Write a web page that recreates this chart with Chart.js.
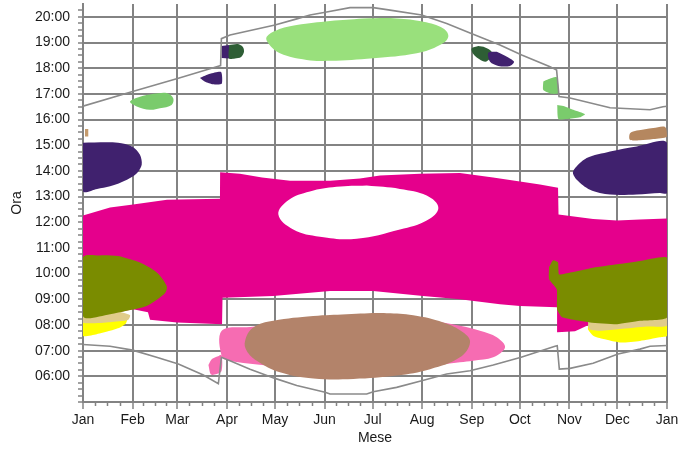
<!DOCTYPE html>
<html>
<head>
<meta charset="utf-8">
<script src="https://cdn.jsdelivr.net/npm/chart.js@4.4.1/dist/chart.umd.min.js"></script>
<style>
  html, body { margin: 0; padding: 0; background: #fff; }
  canvas { display: block; }
</style>
</head>
<body>
<canvas id="shade-chart" width="697" height="450"></canvas>
<script>
// x = day of year, y = hour of day
const monthStartDay = [0, 31, 59, 90, 120, 151, 181, 212, 243, 273, 304, 334, 365];
const monthNames = ['Jan', 'Feb', 'Mar', 'Apr', 'May', 'Jun', 'Jul', 'Aug', 'Sep', 'Oct', 'Nov', 'Dec', 'Jan'];

// Sun rise / set curves
const sunrise = [[0, 7.24], [16.9, 7.17], [31, 7.02], [46, 6.74], [59.6, 6.48], [75.2, 6.05], [84.6, 5.71], [86.5, 6.74],
  [91.9, 6.61], [104.4, 6.28], [120, 5.92], [133.6, 5.64], [151.3, 5.38], [154.4, 5.31], [177.3, 5.31], [181.4, 5.4],
  [196, 5.57], [211.7, 5.83], [227.3, 6.09], [241.9, 6.22], [256.4, 6.44], [273.8, 6.74], [295, 7.17], [296.4, 7.19],
  [297.7, 6.28], [304.4, 6.31], [318.8, 6.51], [334.4, 6.87], [348.1, 7.06], [354.4, 7.17], [365, 7.2]];
const sunset = [[0, 16.52], [31, 17.09], [59.6, 17.61], [83.5, 18.06], [86, 18.1], [86.5, 19.15], [91.9, 19.29],
  [120, 19.68], [133.6, 19.92], [141.9, 20.07], [152.3, 20.19], [166.9, 20.36], [181.4, 20.36], [191.9, 20.26],
  [211.7, 20.07], [227.3, 19.74], [241.9, 19.37], [260.6, 18.9], [274.2, 18.51], [291.9, 18.06], [296, 17.93],
  [297.5, 16.9], [304.4, 16.84], [329.4, 16.46], [354.4, 16.38], [362.5, 16.5], [365, 16.52]];

// Shading areas (outline vertices)
const magenta = [[0, 12.26], [16.9, 12.57], [31.3, 12.69], [52.5, 12.88], [85.6, 12.92], [85.7, 13.95], [98.1, 13.89],
  [111.9, 13.74], [129.4, 13.62], [154.4, 13.62], [173.1, 13.7], [185.6, 13.82], [210.6, 13.89], [235.6, 13.92],
  [256.3, 13.74], [273.1, 13.59], [285.6, 13.47], [296.9, 13.34], [297.2, 12.3], [318.8, 12.13], [333.8, 12.07],
  [348.1, 12.11], [365, 12.15], [365, 9.0], [323.1, 8.23], [316.9, 8.03], [310.6, 7.84], [307.5, 7.76], [296.6, 7.72],
  [296.3, 8.69], [273.1, 8.74], [260.6, 8.81], [235.6, 9.0], [212.5, 9.13], [181.3, 9.32], [154.4, 9.32], [118.8, 9.13],
  [91.9, 9.07], [87.2, 9.06], [86.9, 8.03], [58.8, 8.1], [41.9, 8.2], [40.6, 8.5], [31.3, 8.61], [18.8, 8.46], [0, 8.38]];
const clearSky = [[177.3, 13.43], [198.1, 13.3], [214.8, 13.04], [222.1, 12.56], [214.8, 12.07], [198.1, 11.72],
  [171.1, 11.36], [148.1, 11.44], [131.4, 11.72], [122.1, 12.3], [128.3, 12.86], [141.8, 13.2], [158.4, 13.38]];
const pinkMain = [[173.1, 8.2], [210.6, 8.2], [235.6, 7.97], [248.1, 7.77], [258.6, 7.52], [263.8, 7.13], [256.4, 6.74],
  [243.9, 6.61], [235.6, 6.55], [210.6, 6.36], [173.1, 6.21], [135.6, 6.28], [111.9, 6.44], [100.2, 6.52], [91.9, 6.61],
  [86.9, 6.74], [86.7, 7.77], [104.4, 7.92], [135.6, 8.12]];
const pinkSmall = [[78.4, 6.44], [80.6, 6.67], [84.4, 6.78], [86.6, 6.83], [86.6, 6.21], [83.6, 6.09], [80, 6.07]];
const brown = [[164.8, 8.42], [189.8, 8.46], [206.4, 8.38], [225.2, 8.1], [237.7, 7.71], [241.9, 7.32], [235.6, 6.74],
  [216.9, 6.28], [196.1, 6.03], [169, 5.9], [144, 5.92], [123.1, 6.16], [108.6, 6.61], [102.3, 7], [101.3, 7.38],
  [106.4, 7.9], [118.9, 8.16], [143.9, 8.35]];
const yellowJan = [[0, 8.15], [16.9, 8.23], [27.5, 8.23], [26.9, 8.07], [23.1, 7.9], [16.9, 7.77], [8.6, 7.64], [0, 7.57]];
const tanJan = [[0, 8.5], [20, 8.54], [29.4, 8.38], [28.1, 8.19], [16.9, 8.11], [0, 8.09]];
const oliveJan = [[23.1, 10.68], [35.6, 10.43], [46.1, 10.04], [52.3, 9.52], [51.6, 9.27], [48.1, 9.07], [39.8, 8.74],
  [27.3, 8.55], [16.9, 8.42], [0, 8.34], [0, 10.63], [10.6, 10.71]];
const yellowDec = [[316.9, 8.23], [365, 8.42], [365, 7.58], [360.6, 7.52], [348.1, 7.38], [335.6, 7.32], [325.2, 7.45],
  [318.9, 7.58], [315.6, 7.84]];
const tanDec = [[315.6, 8.3], [365, 8.54], [365, 7.97], [352.3, 7.94], [335.6, 7.84], [323.1, 7.77], [316.3, 7.84]];
const oliveDec = [[291.3, 10.25], [293.8, 10.52], [296.9, 10.44], [297.5, 9.97], [304.4, 10.04], [318.8, 10.23],
  [333.8, 10.36], [348.1, 10.49], [365, 10.62], [365, 8.29], [348.1, 8.16], [333.8, 8.03], [316.9, 8.1], [299.4, 8.3],
  [296.3, 8.61], [296.1, 9.39], [291.3, 9.78]];
const purpleJan = [[0, 15.1], [21.9, 15.1], [30.6, 14.95], [35.6, 14.63], [36.7, 14.24], [33.8, 13.92], [27.5, 13.66],
  [16.9, 13.4], [8.8, 13.3], [0, 13.21]];
const purpleDec = [[329.4, 14.76], [346.1, 14.95], [365, 15.1], [365, 13.14], [360.6, 13.14], [346.1, 13.08],
  [329.4, 13.08], [316.9, 13.27], [308.6, 13.66], [306.3, 13.98], [314.8, 14.5]];
const purpleMar = [[73.1, 17.62], [79.4, 17.78], [86.3, 17.85], [86.7, 17.39], [81.3, 17.37], [76.3, 17.47]];
const purpleApr = [[86.6, 18.86], [91.3, 18.9], [91.3, 18.38], [86.6, 18.4]];
const darkGreenApr = [[91.3, 18.9], [96.9, 18.94], [100, 18.82], [100.6, 18.63], [98.8, 18.44], [95, 18.38], [91.3, 18.38]];
const darkGreenSep = [[247.1, 18.86], [251.3, 18.81], [255.4, 18.64], [254.4, 18.39], [251.3, 18.25], [246.1, 18.42],
  [243.6, 18.58], [242.9, 18.77]];
const purpleSep = [[258.6, 18.64], [265.8, 18.42], [269.4, 18.25], [266.9, 18.09], [259.6, 18.09], [254.4, 18.25],
  [253.3, 18.6]];
const greenSummer = [[175.2, 19.94], [196.1, 19.94], [212.7, 19.81], [225.2, 19.55], [228.3, 19.22], [223.1, 18.9],
  [208.6, 18.58], [181.4, 18.39], [154.4, 18.29], [139.8, 18.32], [123.1, 18.58], [115.8, 18.97], [114.8, 19.22],
  [121.1, 19.48], [133.6, 19.68], [154.4, 19.84]];
const greenFeb = [[43.9, 17], [52.3, 17.03], [56.4, 16.83], [55.4, 16.57], [48.1, 16.44], [41.9, 16.38], [33.6, 16.51],
  [29.4, 16.7], [35.6, 16.89]];
const greenOct = [[287.7, 17.48], [290.8, 17.57], [296.1, 17.65], [297.1, 17.03], [293, 17], [287.7, 17.15]];
const greenNov = [[296.4, 16.57], [300.2, 16.53], [306.4, 16.38], [313.7, 16.21], [310.6, 16.09], [302.3, 16.02],
  [297.1, 16.02]];
const brownDec = [[346.1, 15.57], [356.4, 15.67], [363.8, 15.71], [365, 15.34], [356.4, 15.24], [348.1, 15.19],
  [341.9, 15.21], [341.9, 15.47]];
const tanSliver = [[1.25, 15.63], [3.3, 15.63], [3.3, 15.34], [1.25, 15.34]];

const gridGray = '#838383';

Chart.defaults.font.family = '"Liberation Sans", Arial, sans-serif';
Chart.defaults.font.size = 14;
Chart.defaults.color = '#1a1a1a';

// closed filled outline
const area = (pts, color, tension) => ({
    data: pts.concat([pts[0]]).map(([x, y]) => ({ x, y })),
    backgroundColor: color,
    borderColor: 'rgba(0,0,0,0)',
    borderWidth: 0,
    fill: 'shape',
    tension: tension,
    pointRadius: 0,
    xAxisID: 'x',
    yAxisID: 'y'
});

const curve = (pts) => ({
    data: pts.map(([x, y]) => ({ x, y })),
    borderColor: '#8a8a8a',
    borderWidth: 1.6,
    fill: false,
    tension: 0,
    pointRadius: 0,
    xAxisID: 'x',
    yAxisID: 'y'
});

// bottom to top
const datasets = [
    area(magenta, '#E5008C', 0),
    area(clearSky, '#FFFFFF', 0.4),
    area(pinkMain, '#F66CB2', 0.35),
    area(pinkSmall, '#F66CB2', 0.3),
    area(brown, '#B3836A', 0.4),
    area(yellowJan, '#FFFF00', 0.2),
    area(tanJan, '#E0CC8A', 0.2),
    area(oliveJan, '#7A8C00', 0.3),
    area(yellowDec, '#FFFF00', 0.2),
    area(tanDec, '#E0CC8A', 0.2),
    area(oliveDec, '#7A8C00', 0.15),
    area(purpleJan, '#40216E', 0.3),
    area(purpleDec, '#40216E', 0.3),
    area(purpleMar, '#40216E', 0.2),
    area(purpleApr, '#40216E', 0),
    area(darkGreenApr, '#2E5E35', 0.3),
    area(darkGreenSep, '#2E5E35', 0.3),
    area(purpleSep, '#40216E', 0.3),
    area(greenSummer, '#99E07C', 0.4),
    area(greenFeb, '#7ACB6C', 0.35),
    area(greenOct, '#7ACB6C', 0.2),
    area(greenNov, '#7ACB6C', 0.2),
    area(brownDec, '#B5875F', 0.3),
    area(tanSliver, '#C49A6C', 0),
    curve(sunrise),
    curve(sunset)
];
datasets.forEach((d, i) => { d.order = datasets.length - i; });

new Chart(document.getElementById('shade-chart'), {
    type: 'line',
    data: { datasets: datasets },
    options: {
        responsive: false,
        animation: false,
        layout: { padding: { left: 0, right: 30, top: 4, bottom: 0 } },
        plugins: { legend: { display: false }, tooltip: { enabled: false } },
        scales: {
            x: {
                type: 'linear', position: 'bottom', min: 0, max: 365, z: 1,
                afterBuildTicks: (scale) => { scale.ticks = monthStartDay.map(v => ({ value: v })); },
                afterFit: (scale) => { scale.height = 48; scale.paddingLeft = 0; scale.paddingRight = 0; },
                ticks: { autoSkip: false, maxRotation: 0, padding: 3, callback: (v, i) => monthNames[i] },
                grid: { color: gridGray, lineWidth: 2, tickLength: 7, tickColor: gridGray, tickWidth: 1.5 },
                border: { display: true, color: gridGray, width: 2 },
                title: { display: true, text: 'Mese', padding: { top: 0, bottom: 3 } }
            },
            // quarter-month minor ticks
            xMinor: {
                type: 'linear', axis: 'x', position: { y: 5 }, min: 0, max: 365, z: 1,
                afterBuildTicks: (scale) => {
                    const t = [];
                    for (let i = 0; i < 12; i++) {
                        const len = monthStartDay[i + 1] - monthStartDay[i];
                        for (let k = 1; k < 4; k++) t.push({ value: monthStartDay[i] + k * len / 4 });
                    }
                    scale.ticks = t;
                },
                afterFit: (scale) => { scale.paddingLeft = 0; scale.paddingRight = 0; },
                ticks: { display: false, autoSkip: false },
                grid: { drawOnChartArea: false, tickLength: 4, tickColor: gridGray, tickWidth: 1.5 },
                border: { display: false }
            },
            y: {
                type: 'linear', min: 5, max: 20.5, z: 1,
                afterBuildTicks: (scale) => {
                    const t = [];
                    for (let v = 5; v <= 20.25; v += 0.25) t.push({ value: v });
                    scale.ticks = t;
                },
                afterFit: (scale) => { scale.width = 83; scale.paddingTop = 0; scale.paddingBottom = 0; },
                ticks: {
                    autoSkip: false, padding: 8,
                    callback: (v) => (Number.isInteger(v) && v > 5) ? String(v).padStart(2, '0') + ':00' : ''
                },
                grid: {
                    color: (c) => (c.tick && Number.isInteger(c.tick.value)) ? gridGray : 'rgba(0,0,0,0)',
                    lineWidth: 2, tickLength: 5, tickColor: gridGray, tickWidth: 1.5
                },
                border: { display: true, color: gridGray, width: 2 },
                title: { display: true, text: 'Ora', padding: { top: 9, bottom: 0 } }
            }
        }
    }
});
</script>
</body>
</html>
